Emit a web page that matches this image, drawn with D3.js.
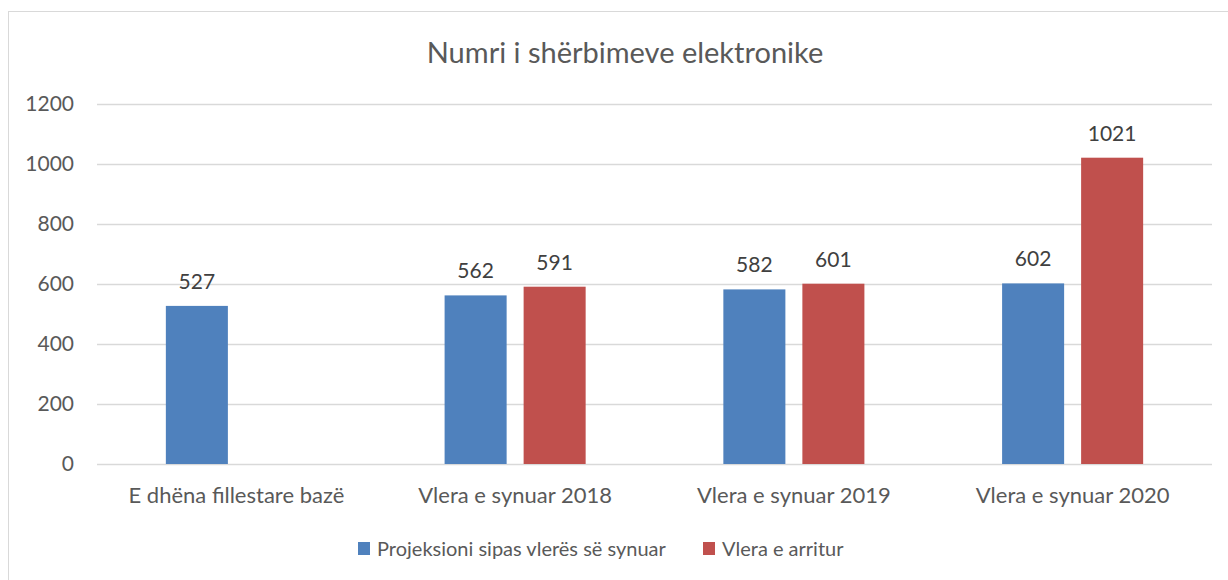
<!DOCTYPE html>
<html>
<head>
<meta charset="utf-8">
<script src="https://cdn.jsdelivr.net/npm/d3@7"></script>
<style>
  body { margin: 0; background: #fff; }
  text { font-family: Lato, "Open Sans", sans-serif; }
</style>
</head>
<body>
<svg id="svg_chart" width="1228" height="580"></svg>
<script>
// data
var categories = ["E dhëna fillestare bazë", "Vlera e synuar 2018", "Vlera e synuar 2019", "Vlera e synuar 2020"];
var seriesNames = ["Projeksioni sipas vlerës së synuar", "Vlera e arritur"];
var projeksioni = [527, 562, 582, 602];
var arritur = [null, 591, 601, 1021];
var yTicks = [0, 200, 400, 600, 800, 1000, 1200];
var colors = ["#4F81BD", "#C0504D"];

var svg = d3.select("svg#svg_chart");
var margin = {top: 104, right: 16, bottom: 116, left: 97};
var width = +svg.attr("width") - margin.left - margin.right;
var height = +svg.attr("height") - margin.top - margin.bottom;

// chart frame (right and bottom fall outside the picture)
svg.append("rect")
  .attr("x", 8.5).attr("y", 11.5)
  .attr("width", 1240).attr("height", 600)
  .attr("fill", "#fff")
  .attr("stroke", "#d9d9d9");

svg.append("text")
  .attr("x", 625).attr("y", 63)
  .attr("text-anchor", "middle")
  .attr("font-size", 29)
  .attr("fill", "#595959")
  .text("Numri i shërbimeve elektronike");

var g = svg.append("g")
  .attr("transform", "translate(" + margin.left + "," + margin.top + ")");

var x0 = d3.scaleBand().domain(categories).range([0, width])
  .paddingInner(0.494).paddingOuter(0.247);
var x1 = d3.scaleBand().domain([0, 1]).range([0, x0.bandwidth()]).paddingInner(0.215);
var y = d3.scaleLinear().domain([0, 1200]).range([height, 0]);

// gridlines
g.append("g")
  .selectAll("line")
  .data(yTicks)
  .enter().append("line")
  .attr("x1", 0).attr("x2", width)
  .attr("y1", function(d) { return Math.round(y(d)) + 0.5; })
  .attr("y2", function(d) { return Math.round(y(d)) + 0.5; })
  .attr("stroke", "#d9d9d9")
  .attr("stroke-width", 1.3);

// y axis labels
var yAxis = g.append("g")
  .call(d3.axisLeft(y).tickValues(yTicks).tickFormat(d3.format("d")).tickSize(0).tickPadding(23));
yAxis.select(".domain").remove();
yAxis.selectAll("text")
  .attr("font-size", 21)
  .attr("fill", "#595959")
  .style("font-family", "Lato, 'Open Sans', sans-serif");

// x axis labels
var xAxis = g.append("g")
  .attr("transform", "translate(0," + height + ")")
  .call(d3.axisBottom(x0).tickSize(0).tickPadding(23));
xAxis.select(".domain").remove();
xAxis.selectAll("text")
  .attr("font-size", 22)
  .attr("fill", "#595959")
  .style("font-family", "Lato, 'Open Sans', sans-serif");

var rows = categories.map(function(c, i) {
  return {cat: c, vals: [projeksioni[i], arritur[i]]};
});

var groups = g.selectAll(".grp")
  .data(rows)
  .enter().append("g")
  .attr("class", "grp")
  .attr("transform", function(d) { return "translate(" + x0(d.cat) + ",0)"; });

var cells = groups.selectAll(".cell")
  .data(function(d) {
    return d.vals.map(function(v, k) { return {k: k, v: v}; })
      .filter(function(e) { return e.v != null; });
  })
  .enter().append("g")
  .attr("class", "cell");

cells.append("rect")
  .attr("x", function(d) { return x1(d.k); })
  .attr("y", function(d) { return y(d.v); })
  .attr("width", x1.bandwidth())
  .attr("height", function(d) { return height - y(d.v); })
  .attr("fill", function(d) { return colors[d.k]; });

cells.append("text")
  .attr("x", function(d) { return x1(d.k) + x1.bandwidth() / 2; })
  .attr("y", function(d) { return y(d.v) - 17; })
  .attr("text-anchor", "middle")
  .attr("font-size", 21)
  .attr("fill", "#404040")
  .text(function(d) { return d.v; });

// legend
var legend = svg.append("g");
var legX = [358, 703];
seriesNames.forEach(function(name, i) {
  legend.append("rect")
    .attr("x", legX[i]).attr("y", 542)
    .attr("width", 12).attr("height", 13)
    .attr("fill", colors[i]);
  legend.append("text")
    .attr("x", legX[i] + 19).attr("y", 556)
    .attr("font-size", 20)
    .attr("fill", "#595959")
    .text(name);
});
</script>
</body>
</html>
